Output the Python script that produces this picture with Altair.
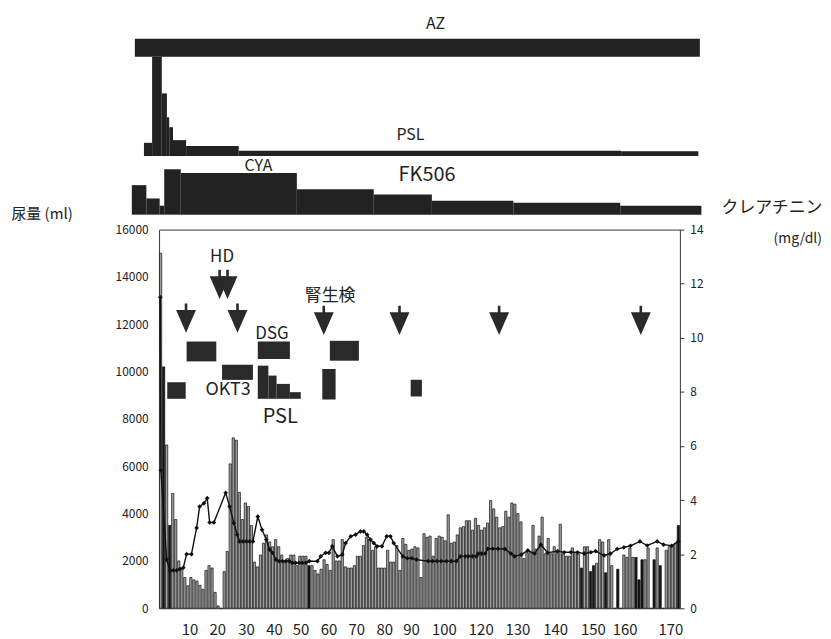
import altair as alt
import pandas as pd

FONT = "Noto Sans CJK JP"

# ---------------- x axis tick labels (positions in day units) ----------------
x_label_pos = [10.7, 19.9, 29.4, 38.6, 47.4, 56.6, 65.8, 75.0, 83.9, 94.7,
               106.9, 119.0, 131.5, 143.9, 154.4, 169.5]
x_label_text = ["10", "20", "30", "40", "50", "60", "70", "80", "90", "100",
                "120", "130", "140", "150", "160", "170"]

# ---------------- urine volume (ml / day) ----------------
urine_ml = [
    15000, 10200, 6900, 3500, 4850, 3750, 2000, 1700, 1300, 950,
    1300, 1200, 1150, 970, 800, 1600, 1800, 1700, 670, 100,
    0, 1550, 2400, 6100, 7200, 7100, 4900, 3750, 4450, 4300,
    3500, 1950, 1750, 2250, 2750, 3100, 2800, 2600, 2900, 2600,
    2250, 1950, 2100, 2250, 2250, 1800, 2200, 2200, 2200, 1800,
    1800, 1600, 1450, 1650, 2050, 1850, 1600, 2900, 2000, 2000,
    2900, 1750, 1700, 1700, 1800, 2200, 2200, 2650, 3000, 2900,
    2450, 2600, 1700, 1700, 1700, 2450, 1950, 1950, 2650, 1600,
    2950, 2700, 2450, 2500, 2600, 2550, 1300, 3150, 3000, 3050,
    2200, 2950, 3050, 3000, 2850, 3950, 2750, 2800, 3100, 3400,
    3450, 3700, 3700, 3300, 3800, 3500, 3300, 3400, 3600, 4550,
    4200, 3850, 3400, 3450, 4100, 3850, 4450, 4400, 4000, 3650,
    2100, 2350, 2350, 3500, 2500, 3050, 3850, 2300, 2950, 2300,
    2600, 2350, 3550, 2300, 2200, 2200, 2550, 2350, 2300, 1700,
    2600, 2600, 1550, 1800, 1900, 2900, 2800, 1500, 2900, 1800,
    0, 1650, 0, 2250, 2150, 2550, 2150, 2150, 1200, 2050,
    2050, 2550, 0, 2050, 2550, 1800, 0, 2450, 2600, 2650,
    2750, 3500,
]
dark_days = [2, 4, 50, 140, 143, 144, 148, 152, 158, 159, 160, 164, 166, 172]

# ---------------- serum creatinine (mg/dl) ----------------
cre_day = [0.9, 1.1, 3.0, 4.1, 5.2, 6.3, 7.4, 8.5, 9.6, 11.2,
           12.9, 13.9, 15.3, 16.4, 17.2, 18.6, 22.5, 23.8, 25.2, 26.3,
           27.1, 28.2, 29.3, 30.4, 31.5, 33.1, 34.5, 35.9, 37.0, 38.0,
           39.1, 40.2, 41.3, 42.4, 43.5, 44.5, 45.6, 46.7, 47.8, 49.0,
           50.1, 52.8, 53.9, 55.5, 56.6, 57.7, 59.4, 61.0, 62.1, 63.8,
           65.4, 67.0, 68.1, 69.2, 70.3, 71.4, 72.5, 74.1, 75.7, 76.9,
           78.0, 81.0, 82.5, 84.0, 85.5, 89.4, 90.8, 92.3, 93.7, 95.4,
           97.0, 98.7, 100.0, 101.6, 102.6, 104.0, 105.2, 105.9, 107.0, 108.2,
           109.1, 110.7, 112.4, 114.7, 116.7, 117.9, 120.1, 122.3, 124.5, 126.6,
           128.8, 132.1, 134.3, 136.5, 138.7, 140.9, 143.1, 144.7, 147.5, 149.6,
           151.8, 154.0, 156.2, 159.3, 161.7, 165.0, 167.1, 169.8, 172.0]
cre_mg = [11.5, 5.1, 1.8, 1.4, 1.4, 1.4, 1.45, 1.5, 2.0, 2.0,
          2.97, 3.76, 3.88, 4.07, 3.17, 3.17, 4.27, 3.76, 3.15, 2.72,
          2.47, 2.47, 2.47, 2.47, 2.47, 3.39, 2.9, 2.54, 2.17, 2.05,
          1.8, 1.74, 1.74, 1.74, 1.74, 1.68, 1.68, 1.68, 1.68, 1.68,
          1.74, 1.74, 1.92, 2.05, 2.05, 2.29, 1.92, 1.98, 2.41, 2.66,
          2.72, 2.84, 2.84, 2.72, 2.54, 2.41, 2.29, 2.29, 2.66, 2.66,
          2.41, 1.92, 1.85, 1.85, 1.8, 1.74, 1.74, 1.74, 1.74, 1.74,
          1.74, 1.74, 1.92, 1.92, 1.92, 1.92, 1.92, 2.02, 2.02, 2.02,
          2.2, 2.2, 2.2, 2.19, 2.02, 1.92, 1.98, 2.14, 2.02, 2.35,
          2.05, 2.11, 2.07, 2.07, 2.07, 2.02, 2.07, 2.11, 1.95, 2.02,
          2.19, 2.25, 2.31, 2.47, 2.32, 2.47, 2.35, 2.31, 2.47]

# ---------------- drug bands above the chart ----------------
az_start = [-7.5]
az_end = [179.1]

psl_start = [-4.5, -1.8, 1.4, 3.09, 3.85, 5.1, 9.43, 26.8, 153.1]
psl_end = [-1.8, 1.4, 3.09, 3.85, 5.1, 9.43, 26.8, 153.1, 178.6]
psl_level = [13.3, 100, 63, 39, 29, 16, 10, 5.3, 4.7]

cya_start = [-8.5, -3.7, 0.7, 2.2, 7.66, 46.0, 71.4, 90.6, 117.5, 152.8]
cya_end = [-3.7, 0.7, 2.2, 7.66, 46.0, 71.4, 90.6, 117.5, 152.8, 179.6]
cya_level = [29.7, 16.3, 9, 45.7, 42, 25.7, 20.3, 14, 12, 9]

top_label_text = ["PSL"]
top_label_day = [83.5]
top_label_level = [21]
cyafk_label_text = ["CYA", "FK506"]
cyafk_label_day = [33.3, 89.0]
cyafk_label_level = [49, 40]
cyafk_label_size = [16, 20]

# ---------------- annotations inside the chart ----------------
arrow_day = [9.4, 20.5, 23.1, 26.4, 54.9, 79.9, 112.8, 159.6]
arrow_ml = [12140, 13570, 13570, 12140, 12050, 12050, 12050, 12050]

block_start = [3.2, 9.6, 21.3, 33.1, 33.1, 36.6, 39.3, 43.7, 56.9, 54.4, 83.6]
block_end = [9.3, 19.4, 31.5, 43.7, 36.6, 39.3, 43.7, 47.3, 66.5, 58.8, 87.3]
block_lo = [8850, 10430, 9650, 10530, 8850, 8850, 8850, 8850, 10460, 8820, 8950]
block_hi = [9550, 11270, 10290, 11270, 10250, 9830, 9480, 9130, 11300, 10110, 9650]

note_text = ["HD", "腎生検", "DSG", "OKT3", "PSL"]
note_day = [21.3, 57.0, 37.8, 23.3, 40.5]
note_ml = [14830, 13190, 11600, 9220, 8060]
note_size = [17, 17, 17, 18, 20]

# ---------------- build ----------------
W = 524
H = 381
X_DOMAIN = [0.5, 172.5]
INK = "#222222"


def xs():
    return alt.Scale(domain=X_DOMAIN, nice=False, zero=False)


NOSTROKE = alt.ViewBackground(stroke="transparent", strokeWidth=0)

# AZ band
az_df = pd.DataFrame({"start": az_start, "end": az_end, "lo": [0], "hi": [1]})
az_bar = alt.Chart(az_df).mark_rect(color=INK).encode(
    x=alt.X("start:Q", scale=xs(), axis=None), x2="end:Q",
    y=alt.Y("lo:Q", scale=alt.Scale(domain=[0, 1], nice=False), axis=None), y2="hi:Q")
az_txt = alt.Chart(pd.DataFrame({"day": [91.8], "t": ["AZ"]})).mark_text(
    font=FONT, fontSize=16, color=INK, baseline="middle").encode(
    x=alt.X("day:Q", scale=xs(), axis=None), y=alt.value(-15), text="t:N")
az_panel = alt.layer(az_bar, az_txt).properties(width=W, height=18, view=NOSTROKE)

# PSL band
psl_df = pd.DataFrame({"start": psl_start, "end": psl_end, "level": psl_level,
                       "base": [0] * len(psl_start)})
psl_scale = alt.Scale(domain=[0, 100], nice=False)
psl_bar = alt.Chart(psl_df).mark_rect(color=INK).encode(
    x=alt.X("start:Q", scale=xs(), axis=None), x2="end:Q",
    y=alt.Y("level:Q", scale=psl_scale, axis=None), y2="base:Q")
psl_txt = alt.Chart(pd.DataFrame({"day": top_label_day, "lv": top_label_level,
                                  "t": top_label_text})).mark_text(
    font=FONT, fontSize=16, color=INK, baseline="middle").encode(
    x=alt.X("day:Q", scale=xs(), axis=None),
    y=alt.Y("lv:Q", scale=psl_scale, axis=None), text="t:N")
psl_panel = alt.layer(psl_bar, psl_txt).properties(width=W, height=100, view=NOSTROKE)

# CYA / FK506 band (13 px gap above, 15 px gap below included in the panel)
cya_df = pd.DataFrame({"start": cya_start, "end": cya_end, "level": cya_level,
                       "base": [0] * len(cya_start)})
cya_scale = alt.Scale(domain=[-15, 59], nice=False)
cya_bar = alt.Chart(cya_df).mark_rect(color=INK).encode(
    x=alt.X("start:Q", scale=xs(), axis=None), x2="end:Q",
    y=alt.Y("level:Q", scale=cya_scale, axis=None), y2="base:Q")
cya_txt = alt.Chart(pd.DataFrame({"day": cyafk_label_day, "lv": cyafk_label_level,
                                  "t": cyafk_label_text, "fs": cyafk_label_size})).mark_text(
    font=FONT, color=INK, baseline="middle").encode(
    x=alt.X("day:Q", scale=xs(), axis=None),
    y=alt.Y("lv:Q", scale=cya_scale, axis=None), text="t:N",
    size=alt.Size("fs:Q", scale=None, legend=None))
cya_panel = alt.layer(cya_bar, cya_txt).properties(width=W, height=74, view=NOSTROKE)

# main panel
n = len(urine_ml)
bars_df = pd.DataFrame({"day": list(range(1, n + 1)), "urine": urine_ml})
bars_df["dark"] = [1 if d in dark_days else 0 for d in bars_df["day"]]


def mls():
    return alt.Scale(domain=[0, 16000], nice=False)


left_axis = alt.Axis(orient="left", values=list(range(0, 16001, 2000)), format="d",
                     ticks=False, domain=False, grid=False, labelFont=FONT,
                     labelFontSize=12, labelColor=INK, labelPadding=11,
                     title="尿量 (ml)", titleAngle=0, titleAlign="left",
                     titleBaseline="middle", titleX=-149, titleY=-16, titleFont=FONT,
                     titleFontSize=15, titleFontWeight="normal", titleColor=INK)
right_axis = alt.Axis(orient="right", values=list(range(0, 15, 2)), ticks=True,
                      tickSize=4, tickColor="#333", domain=False, grid=False,
                      labelFont=FONT, labelFontSize=12, labelColor=INK, labelPadding=6,
                      title="クレアチニン", titleAngle=0, titleAlign="right",
                      titleBaseline="middle", titleX=143, titleY=-22,
                      titleFont=FONT, titleFontSize=17, titleFontWeight="normal",
                      titleColor=INK)

bars = alt.Chart(bars_df).transform_calculate(
    x0="datum.day - 0.37", x1="datum.day + 0.37").mark_rect(
    stroke="#111", strokeWidth=0.7).encode(
    x=alt.X("x0:Q", scale=xs(), axis=None), x2="x1:Q",
    y=alt.Y("urine:Q", scale=mls(), axis=left_axis), y2=alt.datum(0),
    color=alt.condition("datum.dark == 1", alt.value("#161616"), alt.value("#a0a0a0")))

blocks_df = pd.DataFrame({"s": block_start, "e": block_end, "lo": block_lo, "hi": block_hi})
blocks = alt.Chart(blocks_df).mark_rect(color="#2a2a2a").encode(
    x=alt.X("s:Q", scale=xs(), axis=None), x2="e:Q",
    y=alt.Y("lo:Q", scale=mls(), axis=None), y2="hi:Q")

ARROW = "M-1,-1.1L1,-1.1L0,1.2Z M-0.13,-1.1L-0.13,-1.75L0.13,-1.75L0.13,-1.1Z"
arrows_df = pd.DataFrame({"day": arrow_day, "ml": arrow_ml})
arrows = alt.Chart(arrows_df).mark_point(
    shape=ARROW, size=400, filled=True, color="#2a2a2a", opacity=1, strokeWidth=0).encode(
    x=alt.X("day:Q", scale=xs(), axis=None),
    y=alt.Y("ml:Q", scale=mls(), axis=None))

notes_df = pd.DataFrame({"day": note_day, "ml": note_ml, "t": note_text, "fs": note_size})
notes = alt.Chart(notes_df).mark_text(font=FONT, color=INK, baseline="middle").encode(
    x=alt.X("day:Q", scale=xs(), axis=None),
    y=alt.Y("ml:Q", scale=mls(), axis=None), text="t:N",
    size=alt.Size("fs:Q", scale=None, legend=None))

# x tick labels placed below the plot with the shared day scale
xlab_df = pd.DataFrame({"day": x_label_pos, "t": x_label_text})
xlabels = alt.Chart(xlab_df).mark_text(
    font=FONT, fontSize=15, color=INK, baseline="middle").encode(
    x=alt.X("day:Q", scale=xs(), axis=None), y=alt.value(H + 22), text="t:N")

# unit line under the right-hand title
unit = alt.Chart(pd.DataFrame({"t": ["(mg/dl)"]})).mark_text(
    font=FONT, fontSize=14, color=INK, baseline="middle", align="right").encode(
    x=alt.value(W + 143), y=alt.value(10), text="t:N")

cre_df = pd.DataFrame({"day": cre_day, "cre": cre_mg})
cre = alt.Chart(cre_df).mark_line(
    color="#111", strokeWidth=1.4,
    point=alt.OverlayMarkDef(shape="diamond", size=22, filled=True, color="#111")).encode(
    x=alt.X("day:Q", scale=xs(), axis=None),
    y=alt.Y("cre:Q", scale=alt.Scale(domain=[0, 14], nice=False), axis=right_axis))

main = alt.layer(bars, blocks, arrows, notes, cre, xlabels, unit).resolve_scale(
    y="independent").properties(
    width=W, height=H, view=alt.ViewBackground(stroke="#333", strokeWidth=1))

chart = alt.vconcat(az_panel, psl_panel, cya_panel, main, spacing=0, bounds="flush").properties(
    padding={"left": 2, "top": 6, "right": 0, "bottom": 0}
).configure_view(stroke="transparent").configure(font=FONT, background="white")

chart.save("out.html", embed_options={"renderer": "svg", "actions": False})
